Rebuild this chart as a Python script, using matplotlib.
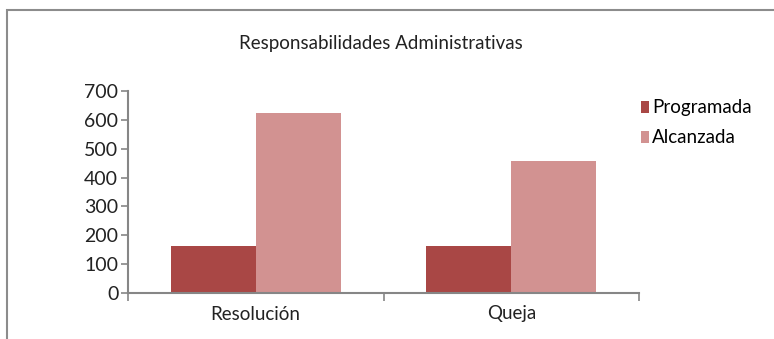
import matplotlib.pyplot as plt
import numpy as np
from matplotlib.patches import Rectangle

categorias = ['Resolución', 'Queja']
programada = [163, 163]
alcanzada = [624, 458]
ticks_y = [0, 100, 200, 300, 400, 500, 600, 700]

col_prog = '#A94745'
col_alc = '#D29291'
gris = '#868686'

plt.rcParams['font.family'] = ['Lato', 'DejaVu Sans']

fig = plt.figure(figsize=(7.74, 3.39), dpi=100)
# marco del grafico
fig.patches.append(Rectangle((7 / 774, -0.1), 1.2, 1 - 10 / 339 + 0.1,
                             transform=fig.transFigure, fill=False,
                             edgecolor='#8c8c8c', linewidth=1.5))

ax = fig.add_axes([128 / 774, 1 - 293 / 339, (639 - 128) / 774, (293 - 91) / 339])

x = np.arange(len(categorias))
ancho = 1 / 3
ax.bar(x - ancho / 2, programada, ancho, color=col_prog, label='Programada')
ax.bar(x + ancho / 2, alcanzada, ancho, color=col_alc, label='Alcanzada')

ax.set_xlim(-0.5, 1.5)
ax.set_ylim(0, 700)
ax.set_yticks(ticks_y)
ax.set_xticks(x)
ax.set_xticklabels(categorias)
ax.set_xticks([-0.5, 0.5, 1.5], minor=True)
ax.tick_params(axis='x', which='major', length=0, pad=9, labelsize=13.5)
ax.tick_params(axis='x', which='minor', length=6, width=1.2)
ax.tick_params(axis='x', which='both', colors=gris, labelcolor='#222222')
ax.tick_params(axis='y', length=5, color=gris, width=1.2, labelsize=14,
               labelcolor='#222222', pad=2)

for s in ['top', 'right']:
    ax.spines[s].set_visible(False)
for s in ['left', 'bottom']:
    ax.spines[s].set_color(gris)
    ax.spines[s].set_linewidth(1.5)

fig.text(381 / 774, 1 - 44 / 339, 'Responsabilidades Administrativas',
         ha='center', va='center', fontsize=13.5, color='#222222')

leg = ax.legend(loc='upper left', bbox_to_anchor=(0.985, 1.005), frameon=False,
                fontsize=13.5, handlelength=0.45, handleheight=0.65,
                handletextpad=0.15, labelspacing=0.7, borderpad=0.3, borderaxespad=0.2)

fig.savefig('out.png', dpi=100)
